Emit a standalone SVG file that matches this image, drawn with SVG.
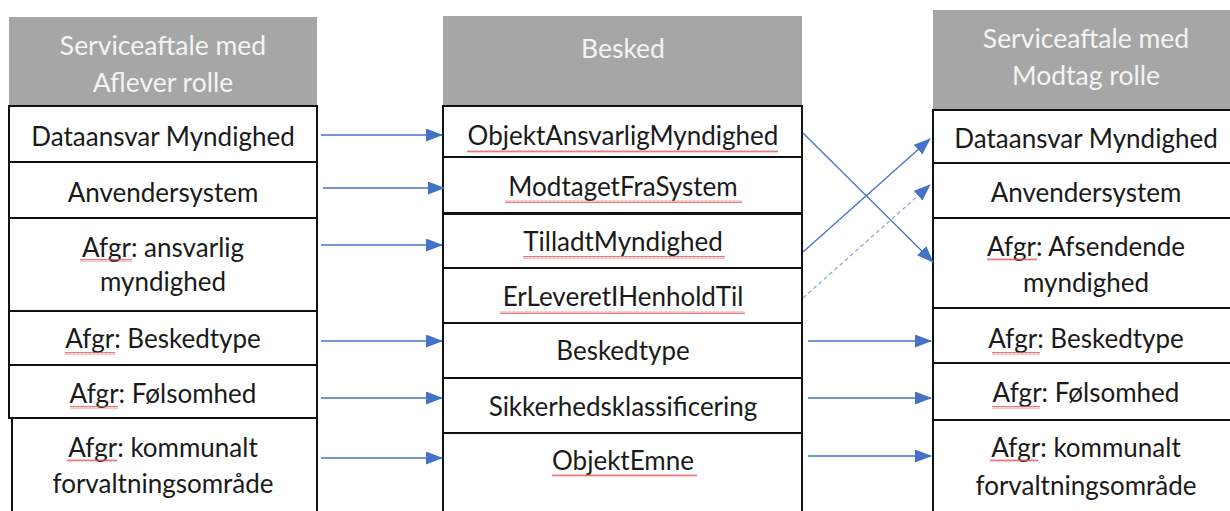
<svg xmlns="http://www.w3.org/2000/svg" width="1230" height="511" viewBox="0 0 1230 511">
<style>
.hdr{fill:#A6A6A6;stroke:none}
.cell{fill:#FFFFFF;stroke:#111111;stroke-width:2}
.ht{font-family:Lato,"Liberation Sans",sans-serif;font-size:26.5px;fill:#F4F4F4;text-anchor:middle}
.t{font-family:Lato,"Liberation Sans",sans-serif;font-size:26px;fill:#1A1A1A;text-anchor:middle}
.c{stroke:#4472C4;stroke-width:1.3;fill:none}
.d{stroke:#8FA8D8;stroke-width:1.3;fill:none;stroke-dasharray:4 3}
.w{fill:url(#wavy)}
</style>
<defs>
<pattern id="wavy" patternUnits="userSpaceOnUse" width="4" height="3">
<polyline points="0,2.5 1,0.5 2,2.5 3,0.5 4,2.5" fill="none" stroke="#E05A5A" stroke-width="0.8"/>
</pattern>
<marker id="ah" markerWidth="17" markerHeight="13" refX="16" refY="6.5" orient="auto" markerUnits="userSpaceOnUse">
<path d="M0,0 L17,6.5 L0,13 Z" fill="#4472C4"/>
</marker>
</defs>
<rect width="1230" height="511" fill="#FFFFFF"/>

<!-- Left column -->
<g id="left-header"><rect class="hdr" x="9" y="17" width="308" height="89"/>
<text class="ht" x="163" y="55">Serviceaftale med</text><text class="ht" x="163" y="92">Aflever rolle</text></g>
<g id="left-1"><rect class="cell" x="9" y="106" width="308" height="56"/><text class="t" x="163" y="146">Dataansvar Myndighed</text></g>
<g id="left-2"><rect class="cell" x="9" y="162" width="308" height="56"/><text class="t" x="163" y="202">Anvendersystem</text></g>
<g id="left-3"><rect class="cell" x="9" y="218" width="308" height="93"/><text class="t" x="163" y="257">Afgr: ansvarlig</text><text class="t" x="163" y="291">myndighed</text><rect class="w" x="80" y="259" width="52" height="3"/></g>
<g id="left-4"><rect class="cell" x="9" y="311" width="308" height="54"/><text class="t" x="163" y="348">Afgr: Beskedtype</text><rect class="w" x="65" y="352" width="50" height="3"/></g>
<g id="left-5"><rect class="cell" x="9" y="365" width="308" height="53"/><text class="t" x="163" y="403">Afgr: Følsomhed</text><rect class="w" x="70" y="406" width="48" height="3"/></g>
<g id="left-6"><rect class="cell" x="12" y="418" width="305" height="100"/><text class="t" x="163" y="457">Afgr: kommunalt</text><text class="t" x="163" y="493">forvaltningsområde</text><rect class="w" x="67" y="459" width="50" height="3"/></g>

<!-- Middle column -->
<g id="mid-header"><rect class="hdr" x="443" y="16" width="359" height="90"/><text class="ht" x="623" y="58">Besked</text></g>
<g id="mid-1"><rect class="cell" x="443" y="106" width="359" height="51"/><text class="t" x="623" y="145">ObjektAnsvarligMyndighed</text><rect class="w" x="467" y="150" width="311" height="3"/></g>
<g id="mid-2"><rect class="cell" x="443" y="157" width="359" height="56"/><text class="t" x="623" y="196">ModtagetFraSystem</text><rect class="w" x="505" y="200" width="237" height="3"/></g>
<g id="mid-3"><rect class="cell" x="443" y="214" width="359" height="54"/><text class="t" x="623" y="251">TilladtMyndighed</text><rect class="w" x="523" y="256" width="202" height="3"/></g>
<g id="mid-4"><rect class="cell" x="443" y="268" width="359" height="55"/><text class="t" x="623" y="306">ErLeveretIHenholdTil</text><rect class="w" x="500" y="311" width="245" height="3"/></g>
<g id="mid-5"><rect class="cell" x="443" y="323" width="359" height="55"/><text class="t" x="623" y="360">Beskedtype</text></g>
<g id="mid-6"><rect class="cell" x="443" y="378" width="359" height="55"/><text class="t" x="623" y="416">Sikkerhedsklassificering</text></g>
<g id="mid-7"><rect class="cell" x="443" y="433" width="359" height="90"/><text class="t" x="623" y="470">ObjektEmne</text><rect class="w" x="552" y="474" width="145" height="3"/></g>

<!-- Right column -->
<g id="right-header"><rect class="hdr" x="933" y="10" width="310" height="100"/>
<text class="ht" x="1086" y="48">Serviceaftale med</text><text class="ht" x="1086" y="85">Modtag rolle</text></g>
<g id="right-1"><rect class="cell" x="933" y="110" width="310" height="53"/><text class="t" x="1086" y="148">Dataansvar Myndighed</text></g>
<g id="right-2"><rect class="cell" x="933" y="163" width="310" height="55"/><text class="t" x="1086" y="202">Anvendersystem</text></g>
<g id="right-3"><rect class="cell" x="933" y="218" width="310" height="90"/><text class="t" x="1086" y="256">Afgr: Afsendende</text><text class="t" x="1086" y="292">myndighed</text><rect class="w" x="987" y="258" width="50" height="3"/></g>
<g id="right-4"><rect class="cell" x="933" y="308" width="310" height="55"/><text class="t" x="1086" y="348">Afgr: Beskedtype</text><rect class="w" x="992" y="352" width="48" height="3"/></g>
<g id="right-5"><rect class="cell" x="933" y="363" width="310" height="57"/><text class="t" x="1086" y="402">Afgr: Følsomhed</text><rect class="w" x="992" y="406" width="48" height="3"/></g>
<g id="right-6"><rect class="cell" x="933" y="420" width="310" height="100"/><text class="t" x="1086" y="457">Afgr: kommunalt</text><text class="t" x="1086" y="495">forvaltningsområde</text><rect class="w" x="990" y="459" width="48" height="3"/></g>

<!-- Connectors -->
<g id="connectors">
<line class="c" x1="321" y1="135" x2="442" y2="135" marker-end="url(#ah)"/>
<line class="c" x1="323" y1="188" x2="444" y2="188" marker-end="url(#ah)"/>
<line class="c" x1="321" y1="245" x2="442" y2="245" marker-end="url(#ah)"/>
<line class="c" x1="321" y1="341" x2="442" y2="341" marker-end="url(#ah)"/>
<line class="c" x1="321" y1="398" x2="442" y2="398" marker-end="url(#ah)"/>
<line class="c" x1="321" y1="458" x2="442" y2="458" marker-end="url(#ah)"/>
<line class="c" x1="808" y1="341" x2="931" y2="341" marker-end="url(#ah)"/>
<line class="c" x1="808" y1="398" x2="931" y2="398" marker-end="url(#ah)"/>
<line class="c" x1="808" y1="456" x2="931" y2="456" marker-end="url(#ah)"/>
<line class="c" x1="803" y1="133" x2="933" y2="262" marker-end="url(#ah)"/>
<line class="c" x1="803" y1="252" x2="930" y2="139" marker-end="url(#ah)"/>
<line class="d" x1="803" y1="298" x2="930" y2="185" marker-end="url(#ah)"/>
</g>
</svg>
